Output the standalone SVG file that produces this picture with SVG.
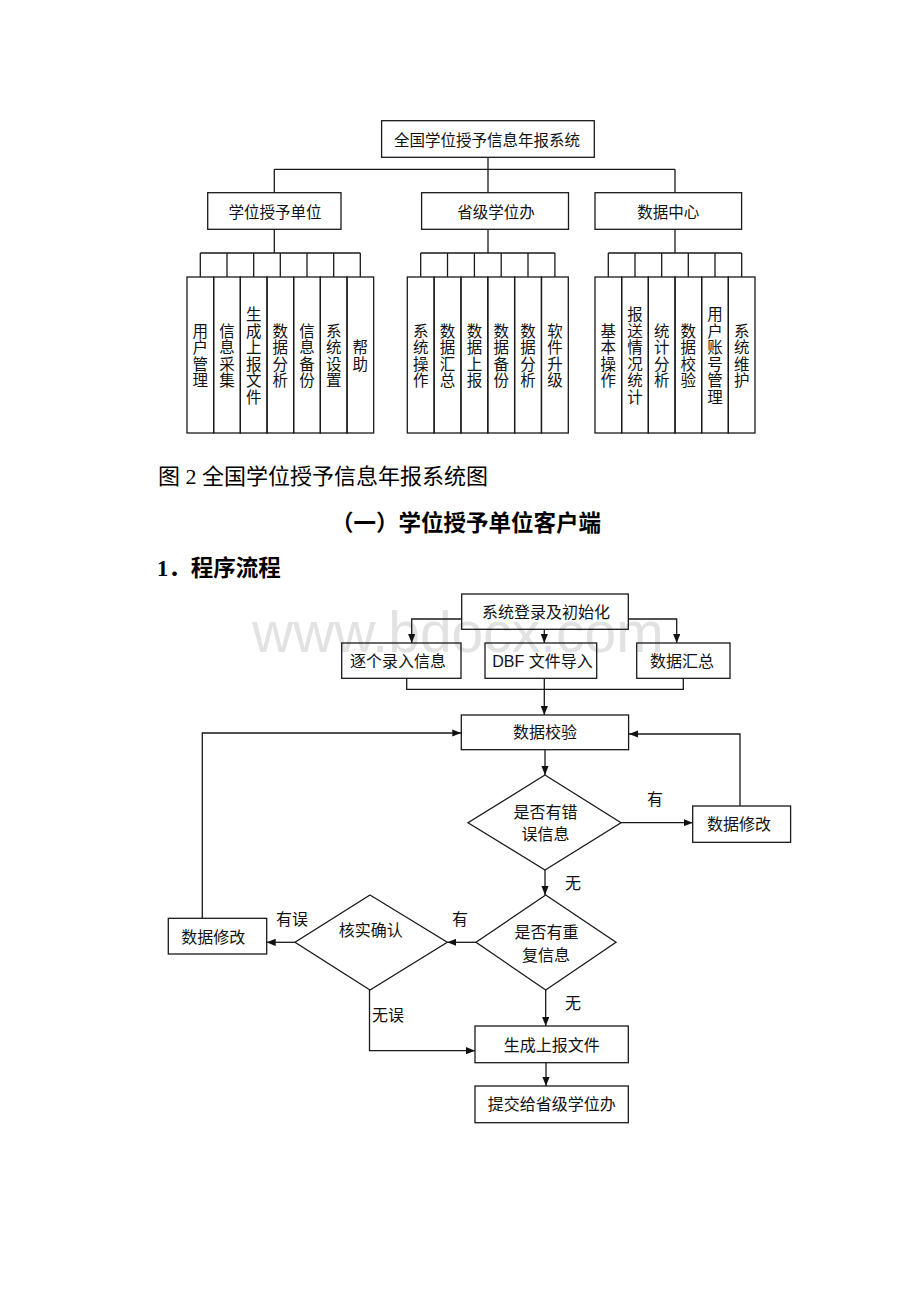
<svg xmlns="http://www.w3.org/2000/svg" width="920" height="1302" viewBox="0 0 920 1302">
<defs>
<style>
.bx{fill:none;stroke:#1a1a1a;stroke-width:1.3}
.ln{fill:none;stroke:#1a1a1a;stroke-width:1.3}
.ar{fill:none;stroke:#1a1a1a;stroke-width:1.3;marker-end:url(#ah)}
.t{font-family:"Noto Sans CJK SC",sans-serif;font-size:15.5px;fill:#111;text-anchor:middle;dominant-baseline:central}
.v{font-family:"Noto Sans CJK SC",sans-serif;font-size:15.5px;fill:#111;text-anchor:middle;writing-mode:vertical-rl;letter-spacing:1px}
.f{font-family:"Liberation Sans","Noto Sans CJK SC",sans-serif;font-size:16px;fill:#111;text-anchor:middle;dominant-baseline:central}
.cap{font-family:"Liberation Serif","Noto Sans CJK SC",serif;font-size:22px;fill:#000}
.h{font-family:"Liberation Serif","Noto Sans CJK SC",serif;font-size:22.5px;font-weight:bold;fill:#000}
.wm{font-family:"Liberation Sans",sans-serif;font-size:57px;fill:#e2e2e2}
</style>
<marker id="ah" viewBox="0 0 10 8" refX="10" refY="4" markerWidth="9" markerHeight="7.2" markerUnits="userSpaceOnUse" orient="auto"><path d="M0,0L10,4L0,8z" fill="#111"/></marker>
</defs>
<rect width="920" height="1302" fill="#fff"/>

<!-- ===== System tree ===== -->
<g id="tree-connectors">
<path class="ln" d="M488,157.3V169.3M274.3,169.3H675M274.3,169.3V192.7M488,169.3V192.7M675,169.3V192.7"/>
<path class="ln" d="M274.3,229.3V253M200.3,253H360.3M200.3,253V277M227,253V277M253.7,253V277M280.3,253V277M307,253V277M333.7,253V277M360.3,253V277"/>
<path class="ln" d="M488,229.3V253M420.7,253H554.9M420.7,253V277M447.5,253V277M474.4,253V277M501.2,253V277M528,253V277M554.9,253V277"/>
<path class="ln" d="M675,229.3V253M608.3,253H741.7M608.3,253V277M635,253V277M661.7,253V277M688.3,253V277M715,253V277M741.7,253V277"/>
</g>
<g id="n-root"><rect class="bx" x="381.6" y="120.7" width="212.7" height="36.6"/><text class="t" x="487" y="139">全国学位授予信息年报系统</text></g>
<g id="n-unit"><rect class="bx" x="207.7" y="192.7" width="133.3" height="36.6"/><text class="t" x="275" y="211">学位授予单位</text></g>
<g id="n-prov"><rect class="bx" x="421.6" y="192.7" width="146.9" height="36.6"/><text class="t" x="496" y="211">省级学位办</text></g>
<g id="n-center"><rect class="bx" x="595" y="192.7" width="146.6" height="36.6"/><text class="t" x="668.3" y="211">数据中心</text></g>

<g id="leaves-unit">
<g id="a1"><rect class="bx" x="187" y="277" width="26.67" height="156"/><text class="v" x="200.3" y="356">用户管理</text></g>
<g id="a2"><rect class="bx" x="213.67" y="277" width="26.67" height="156"/><text class="v" x="227" y="356">信息采集</text></g>
<g id="a3"><rect class="bx" x="240.33" y="277" width="26.67" height="156"/><text class="v" x="253.7" y="356">生成上报文件</text></g>
<g id="a4"><rect class="bx" x="267" y="277" width="26.67" height="156"/><text class="v" x="280.3" y="356">数据分析</text></g>
<g id="a5"><rect class="bx" x="293.67" y="277" width="26.67" height="156"/><text class="v" x="307" y="356">信息备份</text></g>
<g id="a6"><rect class="bx" x="320.33" y="277" width="26.67" height="156"/><text class="v" x="333.7" y="356">系统设置</text></g>
<g id="a7"><rect class="bx" x="347" y="277" width="26.67" height="156"/><text class="v" x="360.3" y="356">帮助</text></g>
</g>

<g id="leaves-prov">
<g id="b1"><rect class="bx" x="407.3" y="277" width="26.83" height="156"/><text class="v" x="420.7" y="356">系统操作</text></g>
<g id="b2"><rect class="bx" x="434.13" y="277" width="26.83" height="156"/><text class="v" x="447.5" y="356">数据汇总</text></g>
<g id="b3"><rect class="bx" x="460.97" y="277" width="26.83" height="156"/><text class="v" x="474.4" y="356">数据上报</text></g>
<g id="b4"><rect class="bx" x="487.8" y="277" width="26.83" height="156"/><text class="v" x="501.2" y="356">数据备份</text></g>
<g id="b5"><rect class="bx" x="514.63" y="277" width="26.83" height="156"/><text class="v" x="528" y="356">数据分析</text></g>
<g id="b6"><rect class="bx" x="541.47" y="277" width="26.83" height="156"/><text class="v" x="554.9" y="356">软件升级</text></g>
</g>

<g id="leaves-center">
<g id="c1"><rect class="bx" x="595" y="277" width="26.67" height="156"/><text class="v" x="608.3" y="356">基本操作</text></g>
<g id="c2"><rect class="bx" x="621.67" y="277" width="26.67" height="156"/><text class="v" x="635" y="356">报送情况统计</text></g>
<g id="c3"><rect class="bx" x="648.33" y="277" width="26.67" height="156"/><text class="v" x="661.7" y="356">统计分析</text></g>
<g id="c4"><rect class="bx" x="675" y="277" width="26.67" height="156"/><text class="v" x="688.3" y="356">数据校验</text></g>
<g id="c5"><rect class="bx" x="701.67" y="277" width="26.67" height="156"/><text class="v" x="715" y="356">用户账号管理</text></g>
<g id="c6"><rect class="bx" x="728.33" y="277" width="26.67" height="156"/><text class="v" x="741.7" y="356">系统维护</text></g>
</g>

<!-- ===== Headings ===== -->
<text class="cap" x="158" y="484">图 2 全国学位授予信息年报系统图</text>
<text class="h" x="331" y="531">（一）学位授予单位客户端</text>
<text class="h" x="157" y="576">1．程序流程</text>

<!-- watermark -->
<text class="wm" x="252" y="652">www.bdocx.com</text>

<!-- ===== Flowchart ===== -->
<g id="flow-connectors">
<path class="ar" d="M461.7,619H411.7V643"/>
<path class="ar" d="M544.3,629.3V643"/>
<path class="ar" d="M628.3,619H676.7V643"/>
<path class="ln" d="M406.7,678.3V689.3H683.3V678.3"/>
<path class="ar" d="M544.3,678.3V715"/>
<path class="ar" d="M545,749.7V775"/>
<path class="ar" d="M621,822.7H692.7"/>
<path class="ar" d="M740,806V734H629"/>
<path class="ar" d="M545,870V895"/>
<path class="ar" d="M476,942.3H447.3"/>
<path class="ar" d="M295,942.3H266.7"/>
<path class="ar" d="M202.3,918.3V733H461.3"/>
<path class="ar" d="M369.5,990V1050.7H475"/>
<path class="ar" d="M545.7,990V1026"/>
<path class="ar" d="M546,1062.7V1086"/>
<text class="f" x="655" y="799">有</text>
<text class="f" x="573" y="883">无</text>
<text class="f" x="460" y="919">有</text>
<text class="f" x="292" y="919">有误</text>
<text class="f" x="388" y="1015">无误</text>
<text class="f" x="573" y="1003">无</text>
</g>

<g id="f-login"><rect class="bx" x="461.7" y="594" width="166.6" height="35.3"/><text class="f" x="546" y="612">系统登录及初始化</text></g>
<g id="f-input"><rect class="bx" x="341.7" y="643" width="119.3" height="35.3"/><text class="f" x="398" y="661">逐个录入信息</text></g>
<g id="f-dbf"><rect class="bx" x="485" y="643" width="111.7" height="35.3"/><text class="f" x="542.5" y="661">DBF 文件导入</text></g>
<g id="f-sum"><rect class="bx" x="636.7" y="643" width="93.3" height="35.3"/><text class="f" x="682" y="661">数据汇总</text></g>
<g id="f-check"><rect class="bx" x="461.3" y="715" width="167.3" height="34.7"/><text class="f" x="545" y="732.5">数据校验</text></g>
<g id="f-err"><polygon class="bx" points="545,775 621,822.7 545,870 468,822.7"/><text class="f" x="545.5" y="812.5">是否有错</text><text class="f" x="545.5" y="834">误信息</text></g>
<g id="f-fix1"><rect class="bx" x="692.7" y="806" width="97.9" height="36.3"/><text class="f" x="739" y="824">数据修改</text></g>
<g id="f-dup"><polygon class="bx" points="545.7,895 616,942.3 545.7,990 476,942.3"/><text class="f" x="546.5" y="932.5">是否有重</text><text class="f" x="546" y="955.5">复信息</text></g>
<g id="f-verify"><polygon class="bx" points="370,895 447.3,942.3 370,990 295,942.3"/><text class="f" x="370.8" y="930.5">核实确认</text></g>
<g id="f-fix2"><rect class="bx" x="168.3" y="918.3" width="98.4" height="35.7"/><text class="f" x="213.3" y="937">数据修改</text></g>
<g id="f-gen"><rect class="bx" x="475" y="1026" width="153.3" height="36.7"/><text class="f" x="551.7" y="1045">生成上报文件</text></g>
<g id="f-submit"><rect class="bx" x="475" y="1086" width="153.3" height="36.7"/><text class="f" x="551.7" y="1104">提交给省级学位办</text></g>
</svg>
